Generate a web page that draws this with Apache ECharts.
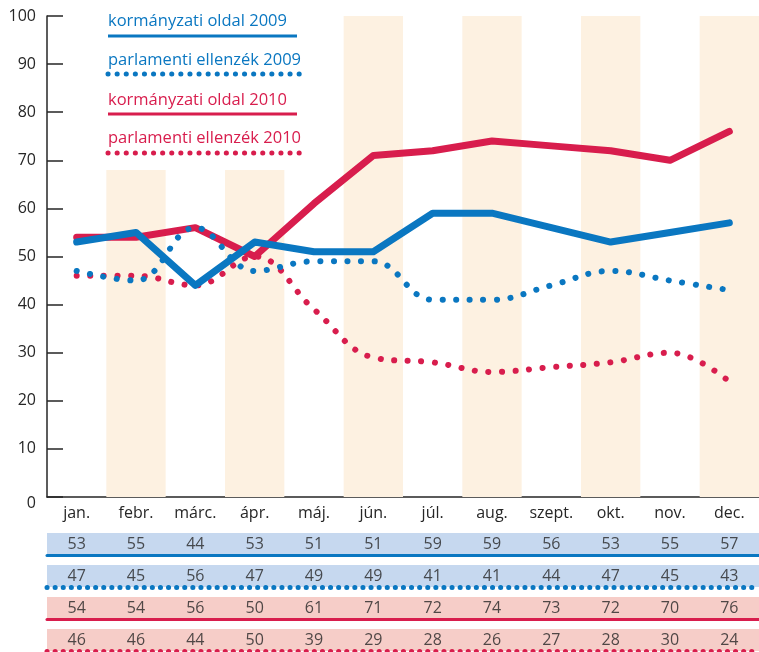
<!DOCTYPE html>
<html>
<head>
<meta charset="utf-8">
<script src="https://cdn.jsdelivr.net/npm/echarts@6/dist/echarts.min.js"></script>
<style>
  html, body { margin: 0; padding: 0; background: #fff; }
  #chart { width: 759px; height: 652px; }
</style>
</head>
<body>
<div id="chart"></div>
<script>
// adatok
const months = ['jan.', 'febr.', 'márc.', 'ápr.', 'máj.', 'jún.', 'júl.', 'aug.', 'szept.', 'okt.', 'nov.', 'dec.'];
const govt2009 = [53, 55, 44, 53, 51, 51, 59, 59, 56, 53, 55, 57];
const opp2009 = [47, 45, 56, 47, 49, 49, 41, 41, 44, 47, 45, 43];
const govt2010 = [54, 54, 56, 50, 61, 71, 72, 74, 73, 72, 70, 76];
const opp2010 = [46, 46, 44, 50, 39, 29, 28, 26, 27, 28, 30, 24];
// háttérsávok teteje (febr. és ápr. alacsonyabb a jelmagyarázat miatt)
const bandTops = ['-', 68, '-', 68, '-', 100, '-', 100, '-', 100, '-', 100];
const names = ['kormányzati oldal 2009', 'parlamenti ellenzék 2009', 'kormányzati oldal 2010', 'parlamenti ellenzék 2010'];

const BLUE = '#0a77c1';
const RED = '#d81d4d';
const FONT = '"Open Sans", "Noto Sans", sans-serif';
const TXT = '#262626';

const chart = echarts.init(document.getElementById('chart'));

// táblázat sorai
const rows = [
    { data: govt2009, color: BLUE, bg: '#c6d8ef', dotted: false },
    { data: opp2009, color: BLUE, bg: '#c6d8ef', dotted: true },
    { data: govt2010, color: RED, bg: '#f6cdc8', dotted: false },
    { data: opp2010, color: RED, bg: '#f6cdc8', dotted: true },
];

const grids = [{ left: 47, top: 16, width: 712, height: 481 }];
const xAxes = [{
    type: 'category',
    gridIndex: 0,
    data: months,
    axisLine: { lineStyle: { color: TXT, width: 1.5 } },
    axisTick: { inside: true, length: 11, lineStyle: { color: TXT, width: 1.5 } },
    axisLabel: { color: TXT, fontSize: 16, fontFamily: FONT, margin: 8 },
}];
const yAxes = [{
    type: 'value',
    gridIndex: 0,
    min: 0,
    max: 100,
    interval: 10,
    axisLine: { show: true, lineStyle: { color: TXT, width: 1.5 } },
    axisTick: { show: true, inside: true, length: 16, lineStyle: { color: TXT, width: 1.5 } },
    splitLine: { show: false },
    axisLabel: {
        color: TXT, fontSize: 16, fontFamily: FONT, margin: 11,
        formatter: v => (v === 0 ? '{z|0}' : v),
        rich: { z: { color: TXT, fontSize: 16, fontFamily: FONT, padding: [12, 0, 0, 0] } },
    },
}];

const dotted = (w, gap) => ({ type: [0.1, gap], width: w, cap: 'round' });

const series = [
    {
        type: 'bar',
        data: bandTops,
        barWidth: '100%',
        itemStyle: { color: '#fdf1e1' },
        silent: true,
        z: 1,
    },
    {
        name: names[3], type: 'line', data: opp2010, smooth: 0.4, symbol: 'none', z: 2,
        lineStyle: Object.assign({ color: RED }, dotted(6, 13.5)),
    },
    {
        name: names[2], type: 'line', data: govt2010, symbol: 'none', z: 3,
        lineStyle: { color: RED, width: 7, cap: 'round', join: 'round' },
    },
    {
        name: names[1], type: 'line', data: opp2009, smooth: 0.4, symbol: 'none', z: 4,
        lineStyle: Object.assign({ color: BLUE }, dotted(6, 13.5)),
    },
    {
        name: names[0], type: 'line', data: govt2009, symbol: 'none', z: 5,
        lineStyle: { color: BLUE, width: 7, cap: 'round', join: 'round' },
    },
];

rows.forEach((row, i) => {
    const g = i + 1;
    grids.push({
        left: 47, top: 533 + i * 32, width: 712, height: 22,
        show: true, backgroundColor: row.bg, borderWidth: 0,
    });
    xAxes.push({
        type: 'category',
        gridIndex: g,
        data: months,
        axisLine: {
            lineStyle: row.dotted
                ? Object.assign({ color: row.color }, dotted(5, 8))
                : { color: row.color, width: 3 },
        },
        axisTick: { show: false },
        axisLabel: { show: false },
    });
    yAxes.push({ type: 'value', gridIndex: g, min: 0, max: 1, show: false });
    series.push({
        type: 'scatter',
        xAxisIndex: g,
        yAxisIndex: g,
        symbolSize: 0,
        silent: true,
        data: row.data.map((v, k) => [k, 0.5, v]),
        label: {
            show: true,
            position: 'inside',
            formatter: p => p.value[2],
            color: TXT,
            fontSize: 16,
            fontFamily: FONT,
        },
    });
});

// jelmagyarázat: szöveg + vonal alatta
const legendItems = [
    { text: names[0], color: BLUE, y: 21, ly: 36, dotted: false },
    { text: names[1], color: BLUE, y: 60, ly: 74, dotted: true },
    { text: names[2], color: RED, y: 100, ly: 114, dotted: false },
    { text: names[3], color: RED, y: 138, ly: 153, dotted: true },
];
const graphic = [];
legendItems.forEach(it => {
    graphic.push({
        type: 'text', x: 108, y: it.y, z: 10,
        style: { text: it.text, fill: it.color, font: '16.5px ' + FONT, verticalAlign: 'middle' },
    });
    graphic.push({
        type: 'line', z: 10,
        shape: { x1: 108, y1: it.ly, x2: it.dotted ? 301 : 297, y2: it.ly },
        style: it.dotted
            ? { stroke: it.color, lineWidth: 5, lineDash: [0.1, 9], lineCap: 'round' }
            : { stroke: it.color, lineWidth: 3 },
    });
});

chart.setOption({
    animation: false,
    textStyle: { fontFamily: FONT },
    grid: grids,
    xAxis: xAxes,
    yAxis: yAxes,
    series: series,
    graphic: graphic,
});
</script>
</body>
</html>
